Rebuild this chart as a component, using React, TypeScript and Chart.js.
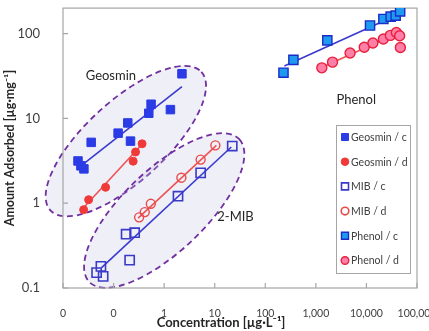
import React, { useEffect, useRef } from "react";
import { Chart, registerables } from "chart.js";

Chart.register(...registerables);

// Concentration [µg/L] and amount adsorbed [µg/mg]
const geosminCX = [0.0198, 0.0226, 0.0259, 0.0361, 0.123, 0.191, 0.216, 0.497, 0.552, 1.33, 2.25];
const geosminCY = [3.15, 2.76, 2.54, 5.22, 6.7, 8.84, 5.4, 11.5, 14.7, 12.7, 33.6];
const geosminDX = [0.0256, 0.0321, 0.0695, 0.244, 0.272, 0.366];
const geosminDY = [0.838, 1.1, 1.54, 3.13, 4.02, 5.02];
const mibCX = [0.0462, 0.0562, 0.0622, 0.177, 0.261, 0.208, 1.88, 5.27, 22.2];
const mibCY = [0.152, 0.18, 0.137, 0.431, 0.449, 0.213, 1.21, 2.28, 4.72];
const mibDX = [0.32, 0.414, 0.545, 2.19, 5.27, 10.3];
const mibDY = [0.681, 0.785, 0.984, 2.0, 3.27, 4.81];
const phenolCX = [229, 360, 1686, 11780, 21640, 30130, 37840, 46430];
const phenolCY = [34.6, 49.0, 83.3, 124.7, 148.9, 158.8, 163.2, 183.2];
const phenolDX = [1313, 2135, 4750, 9050, 13430, 21640, 29720, 39060, 45390, 46880];
const phenolDY = [39.5, 46.1, 59.2, 69.0, 77.5, 86.3, 95.3, 103.3, 94.3, 68.6];

// Fitted isotherm lines (end points)
const geosminCFitX = [0.0251, 2.25];
const geosminCFitY = [2.89, 23.7];
const geosminDFitX = [0.0234, 0.373];
const geosminDFitY = [0.837, 5.02];
const mibCFitX = [0.0579, 21.3];
const mibCFitY = [0.174, 4.6];
const mibDFitX = [0.306, 10.8];
const mibDFitY = [0.668, 4.81];
const phenolCFitX = [239, 51500];
const phenolCFitY = [41.4, 177];
const phenolDFitX = [1268, 44360];
const phenolDFitY = [39.5, 103];

// Axis ticks
const xTickValues = [0.01, 0.1, 1, 10, 100, 1000, 10000, 100000];
const xTickLabels = ["0", "0", "1", "10", "100", "1,000", "10,000", "100,000"];
const yTickValues = [0.1, 1, 10, 100];
const yTickLabels = ["0.1", "1", "10", "100"];

// Group outlines: end points of the long axis (data units)
const geosminGroupEnds = [[0.00562, 0.824], [5.44, 35.4]];
const mibGroupEnds = [[0.033, 0.118], [30.5, 5.7]];

const FONT = "Lato, 'Open Sans', sans-serif";
const BLUE_LINE = "#3a3ad0";
const RED_LINE = "#ef5252";

const pts = (xs: number[], ys: number[]) => xs.map((x, i) => ({ x, y: ys[i] }));

const decorPlugin = {
  id: "decor",
  beforeDatasetsDraw(chart: any) {
    const { ctx, chartArea, scales } = chart;
    const xs = scales.x;
    const ys = scales.y;
    const drawGroup = (ends: number[][], minor: number) => {
      const x1 = xs.getPixelForValue(ends[0][0]);
      const y1 = ys.getPixelForValue(ends[0][1]);
      const x2 = xs.getPixelForValue(ends[1][0]);
      const y2 = ys.getPixelForValue(ends[1][1]);
      const cx = (x1 + x2) / 2;
      const cy = (y1 + y2) / 2;
      const major = Math.hypot(x2 - x1, y2 - y1) / 2;
      const rot = Math.atan2(y2 - y1, x2 - x1);
      ctx.save();
      ctx.beginPath();
      ctx.ellipse(cx, cy, major, minor, rot, 0, Math.PI * 2);
      ctx.fillStyle = "rgba(190,190,225,0.25)";
      ctx.fill();
      ctx.setLineDash([6, 4]);
      ctx.lineWidth = 1.8;
      ctx.strokeStyle = "#7030a0";
      ctx.stroke();
      ctx.restore();
    };
    drawGroup(geosminGroupEnds, 40);
    drawGroup(mibGroupEnds, 41);

    // frame
    ctx.save();
    ctx.strokeStyle = "#a6a6a6";
    ctx.lineWidth = 1.2;
    ctx.strokeRect(chartArea.left, chartArea.top, chartArea.right - chartArea.left, chartArea.bottom - chartArea.top);
    // inner tick marks
    ctx.beginPath();
    xTickValues.forEach((v) => {
      const px = xs.getPixelForValue(v);
      ctx.moveTo(px, chartArea.bottom);
      ctx.lineTo(px, chartArea.bottom - 5);
    });
    yTickValues.forEach((v) => {
      const py = ys.getPixelForValue(v);
      ctx.moveTo(chartArea.left, py);
      ctx.lineTo(chartArea.left + 5, py);
    });
    ctx.stroke();
    ctx.restore();
  },
  afterDatasetsDraw(chart: any) {
    const { ctx, chartArea, scales } = chart;
    const xs = scales.x;
    const ys = scales.y;
    ctx.save();
    // group names
    ctx.fillStyle = "#262626";
    ctx.font = `13px ${FONT}`;
    ctx.textAlign = "center";
    ctx.textBaseline = "middle";
    ctx.fillText("Geosmin", xs.getPixelForValue(0.0885), ys.getPixelForValue(31.9));
    ctx.fillText("2-MIB", xs.getPixelForValue(25.8), ys.getPixelForValue(0.7));
    ctx.fillText("Phenol", xs.getPixelForValue(6295), ys.getPixelForValue(16.7));

    // axis titles
    ctx.fillStyle = "#262626";
    ctx.font = `bold 13px ${FONT}`;
    ctx.fillText("Concentration [µg·L⁻¹]", 221, 323);
    ctx.save();
    ctx.font = `bold 12.5px ${FONT}`;
    ctx.translate(10, (chartArea.top + chartArea.bottom) / 2);
    ctx.rotate(-Math.PI / 2);
    ctx.fillText("Amount Adsorbed [µg·mg⁻¹]", 0, 0);
    ctx.restore();

    // legend box
    const bw = 74;
    const bh = 148;
    const bx = chartArea.right - 7 - bw;
    const by = chartArea.bottom - 15 - bh;
    ctx.fillStyle = "#ffffff";
    ctx.fillRect(bx, by, bw, bh);
    ctx.strokeStyle = "#a6a6a6";
    ctx.lineWidth = 1;
    ctx.strokeRect(bx + 0.5, by + 0.5, bw, bh);
    const items = chart.data.datasets.filter((d: any) => !d.isFit);
    ctx.font = `10.5px ${FONT}`;
    ctx.textAlign = "left";
    items.forEach((d: any, i: number) => {
      const cy = by + 12 + i * 24.7;
      const mx = bx + 9;
      ctx.save();
      ctx.fillStyle = d.backgroundColor;
      ctx.strokeStyle = d.borderColor;
      ctx.lineWidth = d.legendBorder;
      ctx.beginPath();
      if (d.pointStyle === "rect") {
        ctx.rect(mx - 3.5, cy - 3.5, 7, 7);
      } else {
        ctx.arc(mx, cy, 3.8, 0, Math.PI * 2);
      }
      ctx.fill();
      ctx.stroke();
      ctx.restore();
      ctx.fillStyle = "#404040";
      ctx.fillText(d.label, mx + 6, cy + 0.5);
    });
    ctx.restore();
  },
};

export default function App() {
  const canvasRef = useRef<HTMLCanvasElement | null>(null);

  useEffect(() => {
    if (!canvasRef.current) return;
    const fit = (xs: number[], ys: number[], color: string) => ({
      label: "",
      isFit: true,
      data: pts(xs, ys),
      showLine: true,
      borderColor: color,
      backgroundColor: color,
      borderWidth: 1.6,
      pointRadius: 0,
      order: 2,
    });
    const chart = new Chart(canvasRef.current, {
      type: "scatter",
      data: {
        datasets: [
          {
            label: "Geosmin / c",
            data: pts(geosminCX, geosminCY),
            pointStyle: "rect",
            pointRadius: 6,
            backgroundColor: "#2b3be6",
            borderColor: "#2b3be6",
            borderWidth: 1,
            legendBorder: 1,
            order: 1,
          },
          {
            label: "Geosmin / d",
            data: pts(geosminDX, geosminDY),
            pointStyle: "circle",
            pointRadius: 4,
            backgroundColor: "#f03a3a",
            borderColor: "#f03a3a",
            borderWidth: 1,
            legendBorder: 1,
            order: 1,
          },
          {
            label: "MIB / c",
            data: pts(mibCX, mibCY),
            pointStyle: "rect",
            pointRadius: 6.5,
            backgroundColor: "rgba(255,255,255,0)",
            borderColor: "#3a3ac8",
            borderWidth: 1.6,
            legendBorder: 1.6,
            order: 1,
          },
          {
            label: "MIB / d",
            data: pts(mibDX, mibDY),
            pointStyle: "circle",
            pointRadius: 4.5,
            backgroundColor: "rgba(255,255,255,0)",
            borderColor: "#e84a4a",
            borderWidth: 1.4,
            legendBorder: 1.6,
            order: 1,
          },
          {
            label: "Phenol / c",
            data: pts(phenolCX, phenolCY),
            pointStyle: "rect",
            pointRadius: 6.5,
            backgroundColor: "#1e9bf0",
            borderColor: "#1a2cc8",
            borderWidth: 1.4,
            legendBorder: 1.4,
            order: 1,
          },
          {
            label: "Phenol / d",
            data: pts(phenolDX, phenolDY),
            pointStyle: "circle",
            pointRadius: 5,
            backgroundColor: "#ff7fa8",
            borderColor: "#e8203c",
            borderWidth: 1.4,
            legendBorder: 1.4,
            order: 1,
          },
          fit(geosminCFitX, geosminCFitY, BLUE_LINE),
          fit(geosminDFitX, geosminDFitY, RED_LINE),
          fit(mibCFitX, mibCFitY, BLUE_LINE),
          fit(mibDFitX, mibDFitY, RED_LINE),
          fit(phenolCFitX, phenolCFitY, BLUE_LINE),
          fit(phenolDFitX, phenolDFitY, RED_LINE),
        ] as any,
      },
      options: {
        animation: false,
        responsive: false,
        maintainAspectRatio: false,
        layout: { padding: { top: 5, right: 12, left: 0, bottom: 0 } },
        plugins: {
          legend: { display: false },
          tooltip: { enabled: false },
        },
        scales: {
          x: {
            type: "logarithmic",
            min: 0.01,
            max: 100000,
            grid: { display: false },
            border: { display: false },
            afterBuildTicks: (scale: any) => {
              scale.ticks = xTickValues.map((v) => ({ value: v }));
            },
            afterFit: (scale: any) => {
              scale.height = 43;
              scale.paddingLeft = 0;
              scale.paddingRight = 0;
            },
            ticks: {
              autoSkip: false,
              maxRotation: 0,
              minRotation: 0,
              padding: 11,
              color: "#404040",
              font: { family: FONT, size: 10.5 },
              callback: (v: any) => {
                const i = xTickValues.findIndex((t) => Math.abs(t - Number(v)) / t < 1e-6);
                return i >= 0 ? xTickLabels[i] : "";
              },
            },
          },
          y: {
            type: "logarithmic",
            min: 0.1,
            max: 200,
            grid: { display: false },
            border: { display: false },
            afterBuildTicks: (scale: any) => {
              scale.ticks = yTickValues.map((v) => ({ value: v }));
            },
            afterFit: (scale: any) => {
              scale.width = 63;
              scale.paddingTop = 0;
              scale.paddingBottom = 0;
            },
            ticks: {
              autoSkip: false,
              padding: 15,
              color: "#404040",
              font: { family: FONT, size: 13 },
              callback: (v: any) => {
                const i = yTickValues.findIndex((t) => Math.abs(t - Number(v)) / t < 1e-6);
                return i >= 0 ? yTickLabels[i] : "";
              },
            },
          },
        },
      } as any,
      plugins: [decorPlugin],
    });
    return () => chart.destroy();
  }, []);

  return (
    <div style={{ position: "fixed", left: 0, top: 0, width: 429, height: 331, background: "#fff" }}>
      <canvas ref={canvasRef} width={429} height={331} style={{ width: 429, height: 331 }} />
    </div>
  );
}
